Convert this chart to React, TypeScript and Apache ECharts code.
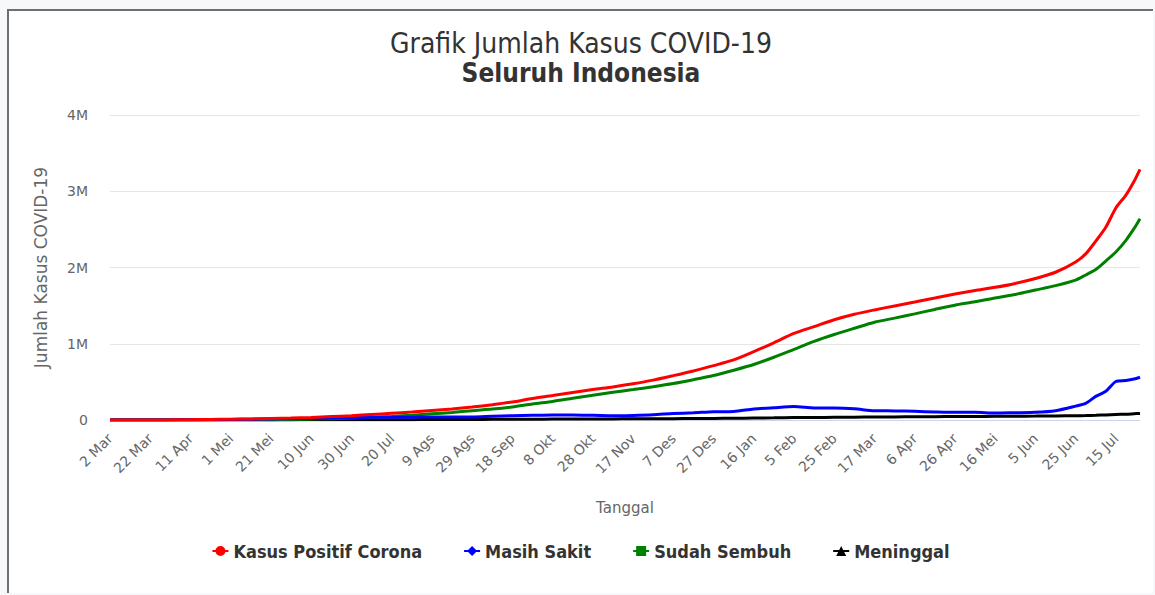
import React, { useEffect, useRef } from "react";
import * as echarts from "echarts";

const monthNames = ["Jan", "Feb", "Mar", "Apr", "Mei", "Jun", "Jul", "Ags", "Sep", "Okt", "Nov", "Des"];
const startDate = "2020-03-02";
const endDate = "2021-07-27";

const sampleDates = [
  "2020-03-02", "2020-03-12", "2020-03-22", "2020-04-01", "2020-04-11", "2020-04-21",
  "2020-05-01", "2020-05-11", "2020-05-21", "2020-05-31", "2020-06-10", "2020-06-20",
  "2020-06-30", "2020-07-10", "2020-07-20", "2020-07-30", "2020-08-09", "2020-08-19",
  "2020-08-29", "2020-09-08", "2020-09-18", "2020-09-28", "2020-10-08", "2020-10-18",
  "2020-10-28", "2020-11-07", "2020-11-17", "2020-11-27", "2020-12-07", "2020-12-17",
  "2020-12-27", "2021-01-06", "2021-01-16", "2021-01-26", "2021-02-05", "2021-02-15",
  "2021-02-25", "2021-03-07", "2021-03-17", "2021-03-27", "2021-04-06", "2021-04-16",
  "2021-04-26", "2021-05-06", "2021-05-16", "2021-05-26", "2021-06-05", "2021-06-15",
  "2021-06-25", "2021-06-30", "2021-07-05", "2021-07-10", "2021-07-15", "2021-07-20",
  "2021-07-24", "2021-07-27",
];

const kasusPositif = [
  2, 34, 514, 1677, 3842, 7135,
  10551, 14265, 20162, 26473, 34316, 45029,
  56385, 72347, 88214, 104432, 125396, 144945,
  169195, 200035, 236519, 282724, 320564, 361867,
  400483, 433836, 474455, 522581, 581550, 643508,
  713365, 788402, 896642, 1012350, 1134854, 1223930,
  1314634, 1386556, 1443853, 1496085, 1547376, 1599763,
  1651794, 1697305, 1739750, 1791221, 1856038, 1937652,
  2072867, 2178272, 2345018, 2527203, 2780803, 2950058,
  3127826, 3287727,
];

const masihSakit = [
  2, 33, 437, 1417, 3229, 5677,
  7711, 10393, 14046, 17223, 20228, 24717,
  28703, 35349, 36998, 37393, 38721, 39942,
  39132, 48847, 56409, 61686, 64924, 64112,
  61178, 54977, 60426, 69353, 84963, 95029,
  108452, 112593, 143517, 161257, 176272, 158711,
  157705, 145953, 122010, 119336, 113191, 106004,
  100971, 100944, 90299, 95406, 100516, 122178,
  181435, 217916, 309762, 376015, 504693, 518087,
  536795, 560216,
];

const sudahSembuh = [
  0, 0, 29, 103, 286, 842,
  2040, 2881, 4838, 7637, 12129, 17883,
  24806, 33529, 46977, 62138, 80952, 98657,
  122802, 142958, 170774, 210437, 244060, 285324,
  325793, 364417, 398636, 436707, 478720, 528965,
  583676, 652513, 727358, 822625, 927380, 1032036,
  1121411, 1203056, 1282701, 1336300, 1392139, 1450192,
  1505707, 1549698, 1601146, 1646188, 1703910, 1761721,
  1835061, 1901865, 1973388, 2084724, 2203621, 2356553,
  2509018, 2640676,
];

const meninggal = [
  0, 1, 48, 157, 327, 616,
  800, 991, 1278, 1613, 1959, 2429,
  2876, 3469, 4239, 4901, 5723, 6346,
  7261, 8230, 9336, 10601, 11580, 12431,
  13512, 14442, 15393, 16521, 17867, 19514,
  21237, 23296, 25767, 28468, 31202, 33183,
  35518, 37547, 39142, 40449, 42046, 43567,
  45116, 46663, 48305, 49627, 51612, 53753,
  56371, 58491, 61868, 66464, 72489, 75418,
  82013, 86835,
];

const yTicks = [0, 1000000, 2000000, 3000000, 4000000];

function buildCategories(): string[] {
  const out: string[] = [];
  const d = new Date(startDate + "T00:00:00Z");
  const end = new Date(endDate + "T00:00:00Z");
  while (d.getTime() <= end.getTime()) {
    out.push(d.toISOString().slice(0, 10));
    d.setUTCDate(d.getUTCDate() + 1);
  }
  return out;
}

function fmtDate(s: string): string {
  const m = parseInt(s.slice(5, 7), 10) - 1;
  const day = parseInt(s.slice(8, 10), 10);
  return day + " " + monthNames[m];
}

const zip = (vals: number[]) => sampleDates.map((d, i) => [d, vals[i]]);

const iconCircle = "path://M0,4 L16,4 L16,6 L0,6 Z M3,5 A5,5 0 1,1 13,5 A5,5 0 1,1 3,5 Z";
const iconDiamond = "path://M0,4 L16,4 L16,6 L0,6 Z M8,0 L13,5 L8,10 L3,5 Z";
const iconSquare = "path://M0,4 L16,4 L16,6 L0,6 Z M3,0 L13,0 L13,10 L3,10 Z";
const iconTriangle = "path://M0,4 L16,4 L16,6 L0,6 Z M8,0 L13,10 L3,10 Z";

const condensed = "'DejaVu Sans Condensed', 'Liberation Sans Narrow', 'DejaVu Sans', sans-serif";
const axisFont = "'DejaVu Sans', Verdana, sans-serif";

export default function App() {
  const ref = useRef<HTMLDivElement>(null);

  useEffect(() => {
    if (!ref.current) return;
    const chart = echarts.init(ref.current, undefined, { renderer: "svg" });
    const categories = buildCategories();
    const names = ["Kasus Positif Corona", "Masih Sakit", "Sudah Sembuh", "Meninggal"];
    const colors = ["#ff0000", "#0000ff", "#008000", "#000000"];
    const values = [kasusPositif, masihSakit, sudahSembuh, meninggal];
    const icons = [iconCircle, iconDiamond, iconSquare, iconTriangle];

    chart.setOption({
      animation: false,
      backgroundColor: "#ffffff",
      title: {
        text: "Grafik Jumlah Kasus COVID-19",
        subtext: "Seluruh Indonesia",
        left: "center",
        top: 13,
        itemGap: 3,
        textStyle: { fontFamily: condensed, fontSize: 28, lineHeight: 28, fontWeight: "normal", color: "#333333" },
        subtextStyle: { fontFamily: condensed, fontSize: 26, lineHeight: 26, fontWeight: "bold", color: "#333333" },
      },
      legend: {
        bottom: 28,
        left: "center",
        itemGap: 42,
        itemWidth: 16,
        itemHeight: 10,
        textStyle: { fontFamily: condensed, fontSize: 18, fontWeight: "bold", color: "#333333" },
        data: names.map((n, i) => ({ name: n, icon: icons[i] })),
      },
      grid: { left: 101, right: 13, top: 104, bottom: 173 },
      xAxis: {
        type: "category",
        data: categories,
        boundaryGap: false,
        name: "Tanggal",
        nameLocation: "middle",
        nameGap: 80,
        nameTextStyle: { fontFamily: axisFont, fontSize: 15, color: "#666666" },
        axisLine: { lineStyle: { color: "#ccd6eb", width: 1 } },
        axisTick: { show: false },
        axisLabel: {
          interval: 19,
          rotate: 45,
          color: "#666666",
          fontFamily: axisFont,
          fontSize: 14,
          margin: 16,
          formatter: (v: string) => fmtDate(v),
        },
      },
      yAxis: {
        type: "value",
        min: yTicks[0],
        max: yTicks[yTicks.length - 1],
        interval: yTicks[1] - yTicks[0],
        name: "Jumlah Kasus COVID-19",
        nameLocation: "middle",
        nameRotate: 90,
        nameGap: 61,
        nameTextStyle: { fontFamily: axisFont, fontSize: 17, color: "#666666" },
        axisLine: { show: false },
        axisTick: { show: false },
        axisLabel: {
          color: "#666666",
          fontFamily: axisFont,
          fontSize: 14,
          margin: 22,
          formatter: (v: number) => (v === 0 ? "0" : v / 1000000 + "M"),
        },
        splitLine: { lineStyle: { color: "#e6e6e6", width: 1 } },
      },
      series: names.map((n, i) => ({
        name: n,
        type: "line",
        data: zip(values[i]),
        showSymbol: false,
        symbol: "none",
        smooth: 0.25,
        lineStyle: { color: colors[i], width: 3 },
        itemStyle: { color: colors[i] },
        z: 4 - i,
      })),
    });
    return () => chart.dispose();
  }, []);

  return (
    <div style={{ position: "fixed", left: 0, top: 0, width: 1155, height: 595, background: "#f7f8f9" }}>
      <div
        style={{
          position: "absolute",
          left: 7,
          top: 9,
          width: 1146,
          height: 584,
          background: "#ffffff",
          borderTop: "2px solid #6e6e6e",
          borderLeft: "2px solid #6e6e6e",
          boxSizing: "border-box",
        }}
      >
        <div ref={ref} style={{ width: 1144, height: 582 }} />
      </div>
    </div>
  );
}
